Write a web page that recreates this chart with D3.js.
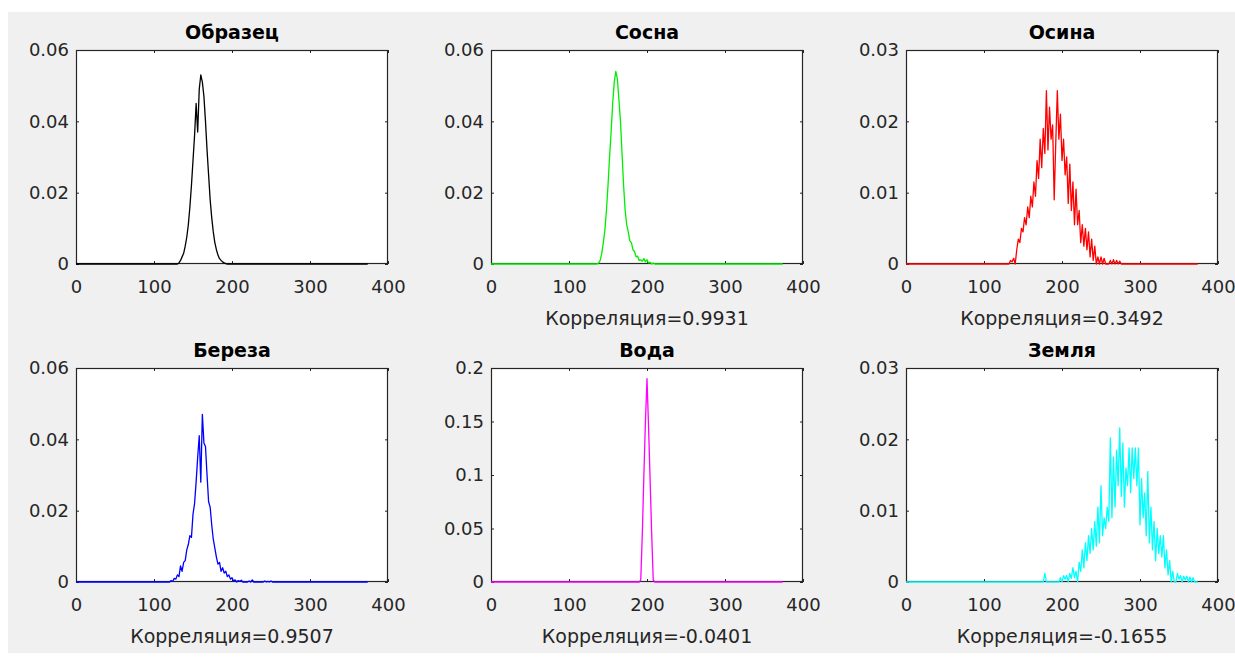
<!DOCTYPE html>
<html>
<head>
<meta charset="utf-8">
<script src="https://cdn.jsdelivr.net/npm/d3@7"></script>
<style>
  html, body { margin: 0; padding: 0; background: #fff; }
  svg { display: block; }
  text { font-family: "DejaVu Sans", sans-serif; }
</style>
</head>
<body>
<svg id="chart" width="1235" height="657"></svg>
<script>
// panel titles, correlation captions and y ranges
const titles = ["Образец", "Сосна", "Осина", "Береза", "Вода", "Земля"];
const correlations = [null, 0.9931, 0.3492, 0.9507, -0.0401, -0.1655];
const yMaxes = [0.06, 0.06, 0.03, 0.06, 0.2, 0.03];
const yTicks = [
    [0, 0.02, 0.04, 0.06],
    [0, 0.02, 0.04, 0.06],
    [0, 0.01, 0.02, 0.03],
    [0, 0.02, 0.04, 0.06],
    [0, 0.05, 0.1, 0.15, 0.2],
    [0, 0.01, 0.02, 0.03]
];
const xTicks = [0, 100, 200, 300, 400];
const histLength = 374;

// non-zero stretch of each histogram: first bin, bin step, values
const sampleStart = 130, sampleStep = 2;
const sampleValues = [0, 0.0003, 0.001, 0.002, 0.003, 0.005, 0.0075, 0.011, 0.016, 0.022,
    0.029, 0.036, 0.045, 0.037, 0.049, 0.053, 0.051, 0.047, 0.04, 0.032,
    0.025, 0.018, 0.013, 0.009, 0.006, 0.004, 0.0025, 0.0015, 0.001, 0.0006,
    0.0003, 0.0001, 0];

const pineStart = 136, pineStep = 2;
const pineValues = [0, 0.0003, 0.001, 0.003, 0.006, 0.0095, 0.015, 0.022, 0.03, 0.037,
    0.045, 0.051, 0.054, 0.052, 0.046, 0.04, 0.031, 0.022, 0.015, 0.011,
    0.009, 0.0065, 0.006, 0.004, 0.0035, 0.002, 0.0022, 0.001, 0.0012, 0.0008,
    0.0015, 0.0006, 0.0012, 0.0003, 0.0005, 0, 0.0003, 0];

const aspenStart = 130, aspenStep = 2;
const aspenValues = [0, 0, 0.0005, 0.0003, 0.0008, 0, 0.002, 0.0035, 0.003, 0.005,
    0.0045, 0.0065, 0.0055, 0.008, 0.0065, 0.0095, 0.008, 0.0115, 0.0095, 0.0145,
    0.012, 0.0175, 0.0135, 0.019, 0.0155, 0.0243, 0.016, 0.022, 0.0175, 0.0195,
    0.009, 0.017, 0.0243, 0.0175, 0.021, 0.0145, 0.0175, 0.0125, 0.015, 0.0085,
    0.014, 0.0075, 0.0115, 0.0055, 0.0105, 0.0055, 0.0075, 0.003, 0.0055, 0.0025,
    0.005, 0.002, 0.0045, 0.001, 0.0035, 0.0005, 0.0025, 0, 0.001, 0,
    0.001, 0, 0.0008, 0, 0, 0, 0.0005, 0, 0.0006, 0,
    0.0005, 0, 0.0004, 0, 0];

const birchStart = 120, birchStep = 2;
const birchValues = [0, 0.0004, 0.0002, 0.001, 0.0008, 0.002, 0.0015, 0.0045, 0.003, 0.0055,
    0.006, 0.009, 0.0105, 0.013, 0.0125, 0.019, 0.022, 0.028, 0.035, 0.041,
    0.028, 0.047, 0.039, 0.038, 0.03, 0.0225, 0.021, 0.016, 0.012, 0.0095,
    0.007, 0.005, 0.0055, 0.003, 0.004, 0.0025, 0.003, 0.0015, 0.002, 0.0008,
    0.0012, 0.0003, 0.0006, 0, 0.0004, 0.0002, 0.0005, 0, 0, 0,
    0, 0.0003, 0, 0.0006, 0, 0, 0, 0, 0, 0,
    0, 0.0003, 0, 0.0002, 0, 0.0003, 0];

const waterStart = 190, waterStep = 2;
const waterValues = [0, 0.002, 0.045, 0.1, 0.15, 0.19, 0.145, 0.095, 0.045, 0.002, 0];

const soilStart = 176, soilStep = 2;
const soilValues = [0, 0.0012, 0, 0, 0, 0, 0, 0, 0, 0,
    0, 0.0006, 0, 0.0009, 0.0004, 0.0009, 0, 0.0012, 0.0005, 0.002,
    0.0006, 0.0015, 0, 0.0028, 0.0015, 0.0045, 0.002, 0.0055, 0.003, 0.0065,
    0.004, 0.0075, 0.0045, 0.0085, 0.005, 0.0105, 0.0055, 0.0135, 0.0065, 0.009,
    0.0075, 0.0105, 0.0085, 0.0202, 0.009, 0.0175, 0.0105, 0.0185, 0.0135, 0.0216,
    0.012, 0.0195, 0.0105, 0.016, 0.0135, 0.0188, 0.0125, 0.0188, 0.0145, 0.0188,
    0.0135, 0.0188, 0.008, 0.0145, 0.009, 0.0125, 0.0065, 0.0155, 0.0055, 0.0105,
    0.0045, 0.0085, 0.003, 0.0075, 0.004, 0.0065, 0.0035, 0.0065, 0.002, 0.0045,
    0.001, 0.003, 0, 0.0015, 0, 0, 0.0012, 0.0004, 0.0009, 0,
    0.0008, 0.0003, 0.0008, 0, 0.0007, 0, 0.0006, 0];

const series = [
    {start: sampleStart, step: sampleStep, values: sampleValues},
    {start: pineStart, step: pineStep, values: pineValues},
    {start: aspenStart, step: aspenStep, values: aspenValues},
    {start: birchStart, step: birchStep, values: birchValues},
    {start: waterStart, step: waterStep, values: waterValues},
    {start: soilStart, step: soilStep, values: soilValues}
];
const colors = ["#000000", "#00ee00", "#ff0000", "#0000ff", "#ff00ff", "#00ffff"];

// layout
const COL_LEFT = [76, 491, 906];
const ROW_TOP = [50, 368];
const W = 312, H = 214;
const AXIS_COLOR = "#262626";

const svg = d3.select("#chart");

// figure background (white strip at top/left like the screenshot)
svg.append("rect").attr("width", 1235).attr("height", 657).attr("fill", "#ffffff");
svg.append("rect")
    .attr("x", 8).attr("y", 12)
    .attr("width", 1227).attr("height", 641)
    .attr("fill", "#f0f0f0");

function toPoints(s){
    let pts = [[0, 0]];
    s.values.forEach((v, i) => pts.push([s.start + i * s.step, v]));
    pts.push([histLength, 0]);
    return pts;
}

titles.forEach((title, i) => {
    let col = i % 3, row = Math.floor(i / 3);
    let g = svg.append("g")
        .attr("transform", `translate(${COL_LEFT[col]},${ROW_TOP[row]})`);

    let x = d3.scaleLinear().domain([0, 400]).range([0, W]);
    let y = d3.scaleLinear().domain([0, yMaxes[i]]).range([H, 0]);

    g.append("rect")
        .attr("width", W).attr("height", H)
        .attr("fill", "#ffffff");

    let fmt = d => String(+d.toFixed(4));

    // left + bottom axes with labels, ticks pointing inward
    let yAxis = g.append("g")
        .call(d3.axisLeft(y).tickValues(yTicks[i]).tickSize(-3).tickSizeOuter(0)
            .tickPadding(7).tickFormat(fmt));
    let xAxis = g.append("g")
        .attr("transform", `translate(0,${H})`)
        .call(d3.axisBottom(x).tickValues(xTicks).tickSize(-3).tickSizeOuter(0)
            .tickPadding(16).tickFormat(fmt));
    // right + top ticks, no labels
    let yAxisR = g.append("g")
        .attr("transform", `translate(${W},0)`)
        .call(d3.axisRight(y).tickValues(yTicks[i]).tickSize(-3).tickSizeOuter(0).tickFormat(""));
    let xAxisT = g.append("g")
        .call(d3.axisTop(x).tickValues(xTicks).tickSize(-3).tickSizeOuter(0).tickFormat(""));

    [yAxis, xAxis, yAxisR, xAxisT].forEach(a => {
        a.select(".domain").remove();
        a.selectAll("line").attr("stroke", AXIS_COLOR);
        a.selectAll("text")
            .attr("fill", AXIS_COLOR)
            .style("font-family", "'DejaVu Sans', sans-serif")
            .style("font-size", "18px");
    });

    g.append("rect")
        .attr("x", 0.5).attr("y", 0.5)
        .attr("width", W - 1).attr("height", H - 1)
        .attr("fill", "none")
        .attr("stroke", AXIS_COLOR)
        .attr("stroke-width", 1.2);

    // histogram line
    let line = d3.line()
        .x(d => x(d[0]))
        .y(d => y(d[1]));
    g.append("path")
        .datum(toPoints(series[i]))
        .attr("d", line)
        .attr("fill", "none")
        .attr("stroke", colors[i])
        .attr("stroke-width", 1.3)
        .attr("stroke-linejoin", "round");

    g.append("text")
        .attr("x", W / 2).attr("y", -11)
        .attr("text-anchor", "middle")
        .attr("fill", "#000")
        .style("font-size", "19px")
        .style("font-weight", "bold")
        .text(title);

    if(correlations[i] !== null){
        g.append("text")
            .attr("x", W / 2).attr("y", H + 61)
            .attr("text-anchor", "middle")
            .attr("fill", AXIS_COLOR)
            .style("font-size", "19px")
            .text("Корреляция=" + correlations[i]);
    }
});
</script>
</body>
</html>
